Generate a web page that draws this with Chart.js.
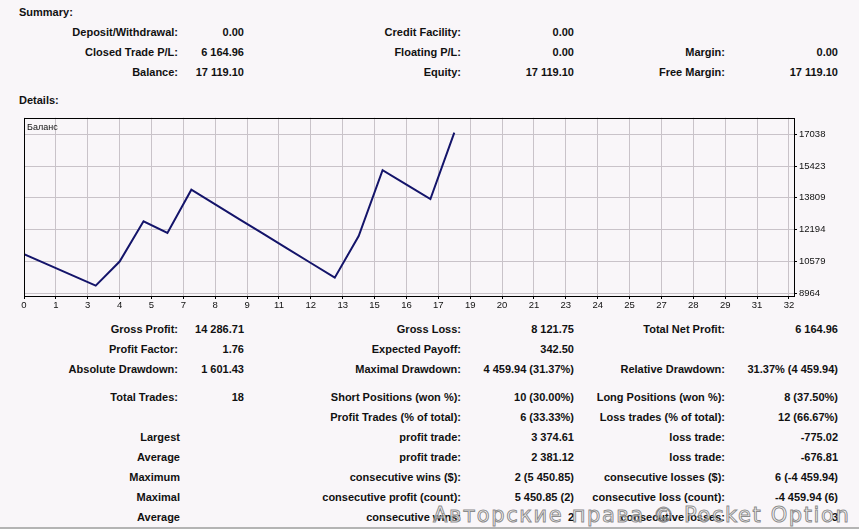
<!DOCTYPE html>
<html lang="en">
<head>
    <meta charset="UTF-8">
    <title>Strategy Report</title>
    <style>
        body {
            margin: 0;
            width: 859px;
            height: 529px;
            background-color: #f9f6f9;
            font-family: "Liberation Sans", Arial, sans-serif;
            color: #111;
            overflow: hidden;
            position: relative;
        }
        .t {
            position: absolute;
            font-size: 11px;
            font-weight: bold;
            line-height: 16px;
            white-space: nowrap;
        }
        .r { text-align: right; }
        #chartBox {
            position: absolute;
            left: 0;
            top: 110px;
            width: 859px;
            height: 205px;
        }
        #balLabel {
            position: absolute;
            left: 27px;
            top: 121px;
            font-size: 9px;
            line-height: 12px;
        }
        #bottomLine {
            position: absolute;
            left: 0;
            top: 527px;
            width: 859px;
            height: 2px;
            background: #b4b4b4;
        }
        #mark {
            position: absolute;
            left: 433px;
            top: 500px;
            font-family: "DejaVu Sans", sans-serif;
            font-size: 21px;
            line-height: 30px;
            letter-spacing: 1.6px;
            color: rgba(255, 255, 255, 0.6);
            -webkit-text-stroke: 1px rgba(120, 120, 120, 0.85);
            white-space: nowrap;
        }
    </style>
</head>
<body>
    <div id="text"></div>
    <div id="chartBox"><canvas id="balanceChart"></canvas></div>
    <div id="balLabel">Баланс</div>
    <div id="bottomLine"></div>
    <div id="mark">Авторские права © Pocket Option</div>

    <script src="https://cdn.jsdelivr.net/npm/chart.js"></script>
    <script>
        // balance after each closed trade (trade 0 = starting balance)
        const trades = [0, 1, 2, 3, 4, 5, 6, 7, 8, 9, 10, 11, 12, 13, 14, 15, 16, 17, 18];
        const balance = [10954.14, 10420.33, 9886.52, 9352.71, 10576, 12620, 12023.2, 14217.2,
                         13473.9, 12730.6, 11987.2, 11243.9, 10500.6, 9757.3, 11867, 15208.1,
                         14476.3, 13744.5, 17119.10];
        const yTickValues = [8964, 10579, 12194, 13809, 15423, 17038];
        const xTickLabels = ['0', '1', '3', '4', '5', '7', '8', '9', '11', '12', '13', '15', '16',
                             '17', '19', '20', '21', '23', '24', '25', '27', '28', '29', '31', '32'];

        // summary / details text: [label, value, labelRightEdge, valueRightEdge, rowCenterY]
        const headers = [['Summary:', 19, 12], ['Details:', 19, 100]];
        const rows = [
            ['Deposit/Withdrawal:', '0.00', 178, 244, 32],
            ['Closed Trade P/L:', '6 164.96', 178, 244, 52],
            ['Balance:', '17 119.10', 178, 244, 72],
            ['Credit Facility:', '0.00', 461, 574, 32],
            ['Floating P/L:', '0.00', 461, 574, 52],
            ['Equity:', '17 119.10', 461, 574, 72],
            ['Margin:', '0.00', 725, 838, 52],
            ['Free Margin:', '17 119.10', 725, 838, 72],

            ['Gross Profit:', '14 286.71', 178, 244, 329],
            ['Profit Factor:', '1.76', 178, 244, 349],
            ['Absolute Drawdown:', '1 601.43', 178, 244, 369],
            ['Total Trades:', '18', 178, 244, 397],
            ['Largest', '', 180, 244, 437],
            ['Average', '', 180, 244, 457],
            ['Maximum', '', 180, 244, 477],
            ['Maximal', '', 180, 244, 497],
            ['Average', '', 180, 244, 517],

            ['Gross Loss:', '8 121.75', 461, 574, 329],
            ['Expected Payoff:', '342.50', 461, 574, 349],
            ['Maximal Drawdown:', '4 459.94 (31.37%)', 461, 574, 369],
            ['Short Positions (won %):', '10 (30.00%)', 461, 574, 397],
            ['Profit Trades (% of total):', '6 (33.33%)', 461, 574, 417],
            ['profit trade:', '3 374.61', 461, 574, 437],
            ['profit trade:', '2 381.12', 461, 574, 457],
            ['consecutive wins ($):', '2 (5 450.85)', 461, 574, 477],
            ['consecutive profit (count):', '5 450.85 (2)', 461, 574, 497],
            ['consecutive wins:', '2', 461, 574, 517],

            ['Total Net Profit:', '6 164.96', 725, 838, 329],
            ['Relative Drawdown:', '31.37% (4 459.94)', 725, 838, 369],
            ['Long Positions (won %):', '8 (37.50%)', 725, 838, 397],
            ['Loss trades (% of total):', '12 (66.67%)', 725, 838, 417],
            ['loss trade:', '-775.02', 725, 838, 437],
            ['loss trade:', '-676.81', 725, 838, 457],
            ['consecutive losses ($):', '6 (-4 459.94)', 725, 838, 477],
            ['consecutive loss (count):', '-4 459.94 (6)', 725, 838, 497],
            ['consecutive losses:', '3', 725, 838, 517]
        ];

        const textBox = document.getElementById('text');
        function addText(str, css) {
            const d = document.createElement('div');
            d.className = 't' + (css.right !== undefined ? ' r' : '');
            d.textContent = str;
            Object.keys(css).forEach(k => d.style[k] = css[k] + 'px');
            textBox.appendChild(d);
        }
        headers.forEach(h => addText(h[0], { left: h[1], top: h[2] - 8 }));
        rows.forEach(r => {
            addText(r[0], { right: 859 - r[2], top: r[4] - 8 });
            if (r[1] !== '') addText(r[1], { right: 859 - r[3], top: r[4] - 8 });
        });

        // draws the black frame round the plot area
        const framePlugin = {
            id: 'frame',
            afterDraw(chart) {
                const a = chart.chartArea;
                const c = chart.ctx;
                c.save();
                c.strokeStyle = '#000';
                c.lineWidth = 1;
                c.strokeRect(Math.round(a.left) + 0.5, Math.round(a.top) + 0.5,
                             Math.round(a.right - a.left), Math.round(a.bottom - a.top));
                c.restore();
            }
        };

        const ctx = document.getElementById('balanceChart').getContext('2d');
        new Chart(ctx, {
            type: 'line',
            data: {
                datasets: [{
                    label: 'Баланс',
                    data: trades.map((t, i) => ({ x: t, y: balance[i] })),
                    borderColor: '#14146a',
                    borderWidth: 2,
                    pointRadius: 0,
                    tension: 0,
                    fill: false
                }]
            },
            options: {
                responsive: true,
                maintainAspectRatio: false,
                animation: false,
                layout: { padding: { left: 24, top: 7.5, right: 0, bottom: 0 } },
                plugins: { legend: { display: false }, tooltip: { enabled: false } },
                scales: {
                    x: {
                        type: 'linear',
                        min: 0,
                        max: 32.21,
                        afterBuildTicks: s => {
                            s.ticks = xTickLabels.map((l, i) => ({ value: i * 4 / 3, label: l }));
                        },
                        afterFit: s => { s.height = 19; },
                        ticks: {
                            autoSkip: false,
                            maxRotation: 0,
                            padding: 1,
                            color: '#111',
                            font: { family: 'Liberation Sans', size: 9.5 },
                            callback: (v, i) => xTickLabels[i]
                        },
                        grid: {
                            color: '#c9c3c9',
                            borderDash: [4, 3],
                            tickLength: 3,
                            tickColor: '#000',
                            tickBorderDash: []
                        },
                        border: { display: false }
                    },
                    y: {
                        position: 'right',
                        min: 8827,
                        max: 17874,
                        afterBuildTicks: s => {
                            s.ticks = yTickValues.map(v => ({ value: v }));
                        },
                        afterFit: s => { s.width = 65; },
                        ticks: {
                            padding: 2,
                            color: '#111',
                            font: { family: 'Liberation Sans', size: 9.5 },
                            callback: v => String(v)
                        },
                        grid: {
                            color: '#c9c3c9',
                            borderDash: [4, 3],
                            tickLength: 3,
                            tickColor: '#000',
                            tickBorderDash: []
                        },
                        border: { display: false }
                    }
                }
            },
            plugins: [framePlugin]
        });
    </script>
</body>
</html>
